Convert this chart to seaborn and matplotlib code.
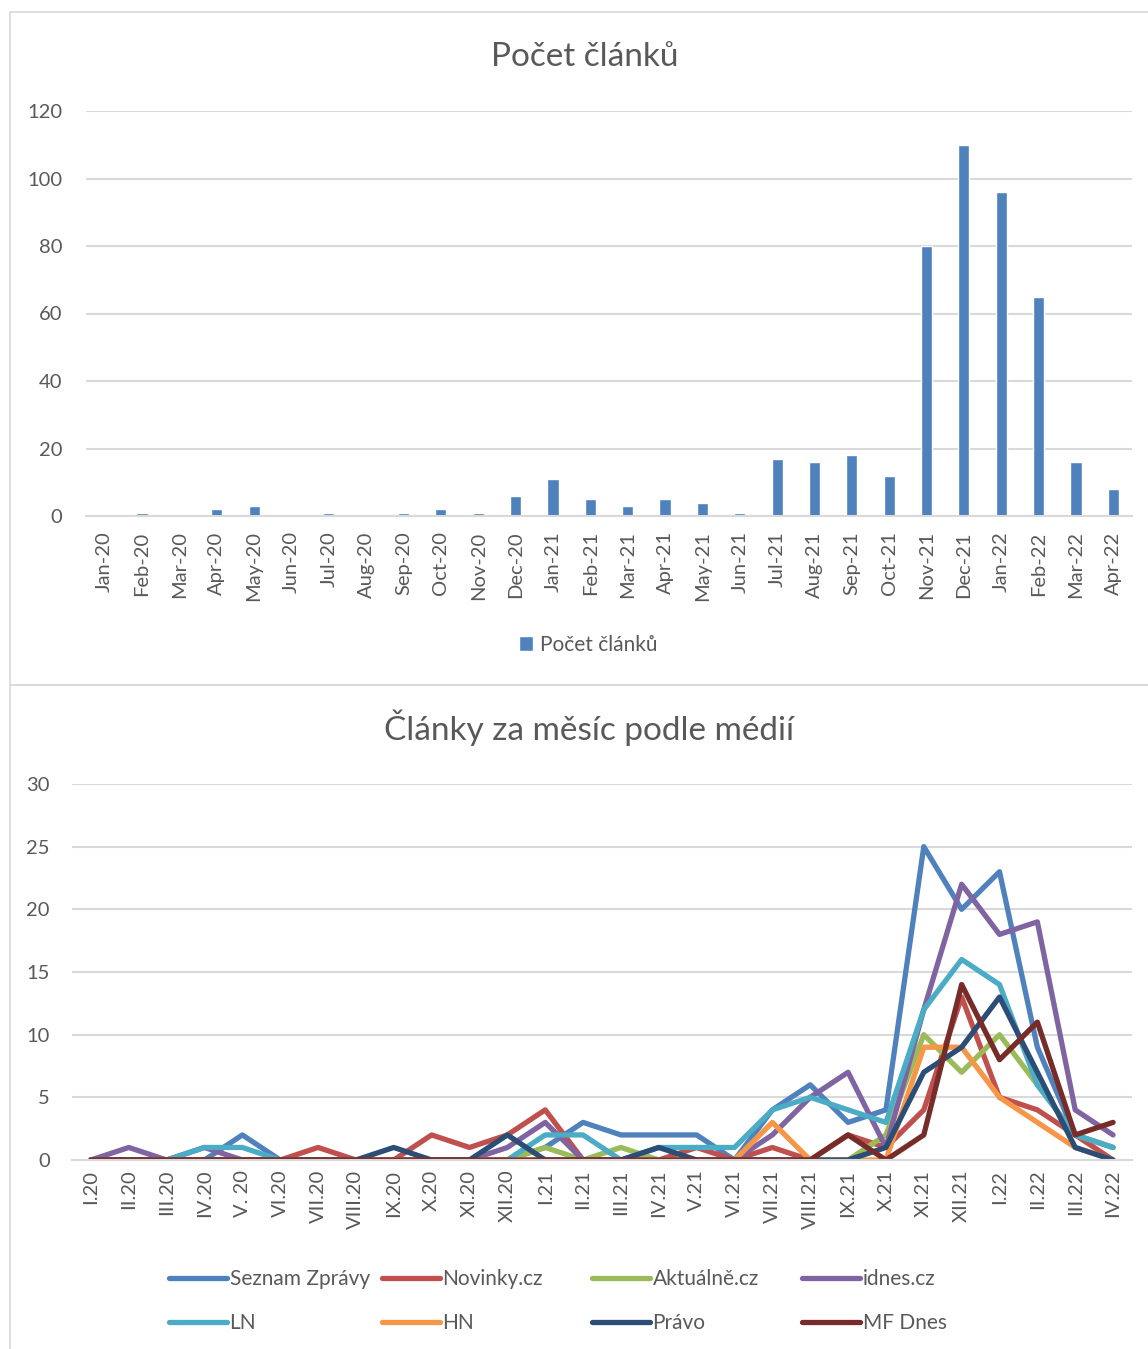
import matplotlib
matplotlib.use("Agg")
import matplotlib.pyplot as plt
import seaborn as sns
import pandas as pd
from matplotlib.patches import Rectangle, Patch
from matplotlib.lines import Line2D

# data - horni graf (pocet clanku za mesic)
mesice = ["Jan-20", "Feb-20", "Mar-20", "Apr-20", "May-20", "Jun-20", "Jul-20",
          "Aug-20", "Sep-20", "Oct-20", "Nov-20", "Dec-20", "Jan-21", "Feb-21",
          "Mar-21", "Apr-21", "May-21", "Jun-21", "Jul-21", "Aug-21", "Sep-21",
          "Oct-21", "Nov-21", "Dec-21", "Jan-22", "Feb-22", "Mar-22", "Apr-22"]
pocet_clanku = [0, 1, 0, 2, 3, 0, 1, 0, 1, 2, 1, 6, 11, 5, 3, 5, 4, 1,
                17, 16, 18, 12, 80, 110, 96, 65, 16, 8]

# data - dolni graf (clanky podle medii)
mesice_rim = ["I.20", "II.20", "III.20", "IV.20", "V. 20", "VI.20", "VII.20",
              "VIII.20", "IX.20", "X.20", "XI.20", "XII.20", "I.21", "II.21",
              "III.21", "IV.21", "V.21", "VI.21", "VII.21", "VIII.21", "IX.21",
              "X.21", "XI.21", "XII.21", "I.22", "II.22", "III.22", "IV.22"]
seznam   = [0, 0, 0, 0, 2, 0, 0, 0, 0, 0, 0, 0, 1, 3, 2, 2, 2, 0, 4, 6, 3, 4, 25, 20, 23, 9, 2, 1]
novinky  = [0, 0, 0, 0, 0, 0, 1, 0, 0, 2, 1, 2, 4, 0, 0, 0, 1, 0, 1, 0, 2, 1, 4, 13, 5, 4, 2, 0]
aktualne = [0, 0, 0, 0, 0, 0, 0, 0, 0, 0, 0, 0, 1, 0, 1, 0, 0, 0, 0, 0, 0, 2, 10, 7, 10, 6, 2, 1]
idnes    = [0, 1, 0, 1, 0, 0, 0, 0, 0, 0, 0, 1, 3, 0, 0, 0, 0, 0, 2, 5, 7, 1, 12, 22, 18, 19, 4, 2]
ln       = [0, 0, 0, 1, 1, 0, 0, 0, 0, 0, 0, 0, 2, 2, 0, 1, 1, 1, 4, 5, 4, 3, 12, 16, 14, 6, 2, 1]
hn       = [0, 0, 0, 0, 0, 0, 0, 0, 0, 0, 0, 0, 0, 0, 0, 0, 0, 0, 3, 0, 0, 0, 9, 9, 5, 3, 1, 0]
pravo    = [0, 0, 0, 0, 0, 0, 0, 0, 1, 0, 0, 2, 0, 0, 0, 1, 0, 0, 0, 0, 0, 1, 7, 9, 13, 7, 1, 0]
mf_dnes  = [0, 0, 0, 0, 0, 0, 0, 0, 0, 0, 0, 0, 0, 0, 0, 0, 0, 0, 0, 0, 2, 0, 2, 14, 8, 11, 2, 3]

media = ["Seznam Zprávy", "Novinky.cz", "Aktuálně.cz", "idnes.cz", "LN", "HN", "Právo", "MF Dnes"]
barvy = ["#4F81BD", "#C0504D", "#9BBB59", "#8064A2", "#4BACC6", "#F79646", "#2C4D75", "#772C2A"]
serie = [seznam, novinky, aktualne, idnes, ln, hn, pravo, mf_dnes]

df_long = pd.concat(
    [pd.DataFrame({"mesic": mesice_rim, "medium": m, "clanky": s}) for m, s in zip(media, serie)],
    ignore_index=True)

sns.set_style("white")
plt.rcParams['font.family'] = ['Lato', 'DejaVu Sans']
plt.rcParams['lines.solid_joinstyle'] = 'round'
plt.rcParams['lines.solid_capstyle'] = 'round'

SEDA = "#595959"
MRIZKA = "#D9D9D9"
W, H = 1148, 1349

fig = plt.figure(figsize=(W / 100, H / 100), dpi=100)

# ramecky grafu
fig.patches.append(Rectangle((10 / W, 1 - 685 / H), 1.2, (685 - 12) / H, transform=fig.transFigure,
                             fill=False, edgecolor=MRIZKA, lw=1.2))
fig.patches.append(Rectangle((10 / W, -0.1), 1.2, 0.1 + (H - 685) / H, transform=fig.transFigure,
                             fill=False, edgecolor=MRIZKA, lw=1.2))

# horni graf
ax1 = fig.add_axes([86 / W, 1 - 516 / H, (1132 - 86) / W, (516 - 111) / H])
sns.barplot(x=mesice, y=pocet_clanku, color="#4F81BD", saturation=1, width=0.3, ax=ax1)
ax1.set_ylim(0, 120)
ax1.set_yticks(range(0, 121, 20))
ax1.set_xlim(-0.5, len(mesice) - 0.5)
ax1.tick_params(axis='x', rotation=90, length=0, pad=11, labelsize=14.5, labelcolor=SEDA)
ax1.tick_params(axis='y', length=0, pad=17, labelsize=14.5, labelcolor=SEDA)
fig.text(585 / W, 1 - 57 / H, "Počet článků", ha='center', va='center', fontsize=24, color=SEDA)
fig.legend([Patch(facecolor="#4F81BD")], ["Počet článků"], loc='center',
           bbox_to_anchor=(588 / W, 1 - 645 / H), frameon=False, handlelength=0.7,
           handleheight=0.7, handletextpad=0.3, fontsize=15, labelcolor=SEDA)

# dolni graf
ax2 = fig.add_axes([72 / W, 1 - 1160 / H, (1132 - 72) / W, (1160 - 784) / H])
sns.lineplot(data=df_long, x="mesic", y="clanky", hue="medium", hue_order=media,
             palette=barvy, linewidth=3.8, sort=False, errorbar=None, legend=False, ax=ax2)
ax2.set_ylim(0, 30)
ax2.set_yticks(range(0, 31, 5))
ax2.set_xlim(-0.5, len(mesice_rim) - 0.5)
ax2.set_xlabel("")
ax2.set_ylabel("")
ax2.tick_params(axis='x', rotation=90, length=0, pad=7, labelsize=14.5, labelcolor=SEDA)
ax2.tick_params(axis='y', length=0, pad=16, labelsize=14.5, labelcolor=SEDA)
fig.text(589 / W, 1 - 728 / H, "Články za měsíc podle médií", ha='center', va='center',
         fontsize=24, color=SEDA)

for ax in (ax1, ax2):
    ax.set_axisbelow(True)
    ax.yaxis.grid(True, color=MRIZKA, lw=1.5)
    for s in ["top", "right", "left"]:
        ax.spines[s].set_visible(False)
    ax.spines["bottom"].set_color(MRIZKA)
    ax.spines["bottom"].set_linewidth(1.5)

# legenda po sloupcich jako v Excelu
sloupce_x = [170, 383, 593, 803]
for k, x0 in enumerate(sloupce_x):
    idx = [k, k + 4]
    handles = [Line2D([], [], color=barvy[i], lw=3.8) for i in idx]
    fig.legend(handles, [media[i] for i in idx], loc='upper left',
               bbox_to_anchor=(x0 / W - 0.008, 1 - 1261 / H), frameon=False,
               handlelength=2.8, handletextpad=0.1, fontsize=15, labelcolor=SEDA,
               labelspacing=1.15, borderaxespad=0)

fig.savefig("out.png", dpi=100)
